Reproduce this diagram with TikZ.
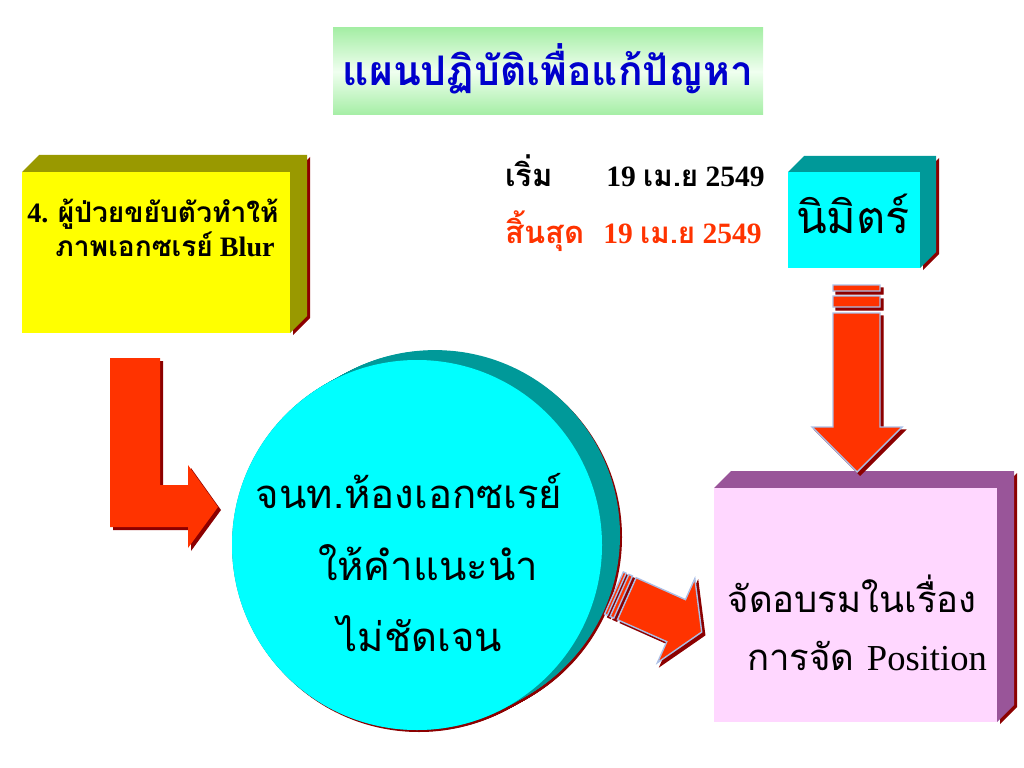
\documentclass[tikz,border=0pt]{standalone}
\usepackage{fontspec}
\setmainfont{Liberation Serif}
\newfontfamily\thai[Script=Thai]{Loma}
\usetikzlibrary{calc}

\definecolor{arrowred}{RGB}{255,51,0}
\definecolor{shadowred}{RGB}{140,0,0}
\definecolor{rim}{RGB}{170,190,230}
\definecolor{boxyellow}{RGB}{255,255,0}
\definecolor{boxolive}{RGB}{153,153,0}
\definecolor{boxcyan}{RGB}{0,255,255}
\definecolor{boxteal}{RGB}{0,153,153}
\definecolor{boxpink}{RGB}{255,215,255}
\definecolor{boxplum}{RGB}{153,85,153}
\definecolor{titleblue}{RGB}{0,0,204}
\definecolor{titlegreen}{RGB}{165,238,165}

% 3D slab: x1 y1 x2 y2 depth front side
\newcommand{\slab}[7]{%
  \fill[shadowred] (#3+3,#2+2) -- (#3+#5+3,#2-#5+2) -- (#3+#5+3,#4-#5+2) -- (#3+3,#4+2) -- cycle;
  \fill[#7] (#1,#2) -- (#1+#5,#2-#5) -- (#3+#5,#2-#5) -- (#3+#5,#4-#5) -- (#3,#4) -- (#3,#2) -- cycle;
  \fill[#6] (#1,#2) rectangle (#3,#4);
}

\tikzset{
  thaibig/.style={font=\thai\fontsize{28.5pt}{32pt}\selectfont, text=black, inner sep=0pt, anchor=base},
  thaibold/.style={font=\bfseries\fontsize{20pt}{24pt}\selectfont, text=black, inner sep=0pt, anchor=base},
  datetext/.style={font=\bfseries\fontsize{21pt}{24pt}\selectfont, inner sep=0pt},
}

\begin{document}
\begin{tikzpicture}[x=0.025cm, y=-0.025cm]
    \useasboundingbox (0,0) rectangle (1024,768);

    % title
    \shade[top color=titlegreen, bottom color=titlegreen, middle color=green!6] (333,28) rectangle (763,115);
    \node[font=\thai\bfseries\fontsize{29pt}{34pt}\selectfont, text=titleblue, inner sep=0pt, anchor=base] (title) at (548,86) {แผนปฏิบัติเพื่อแก้ปัญหา};

    % boxes
    \slab{22}{172}{290}{333}{17}{boxyellow}{boxolive}
    \slab{788}{172}{920}{268}{16}{boxcyan}{boxteal}
    \slab{714}{488}{997}{722}{17}{boxpink}{boxplum}

    \node[thaibold] (cause1) at (153,222) {4. {\thai ผู้ป่วยขยับตัวทำให้}};
    \node[thaibold] (cause2) at (165,256) {{\thai ภาพเอกซเรย์} Blur};

    \node[font=\thai\fontsize{32pt}{36pt}\selectfont, inner sep=0pt, anchor=base] (owner) at (853,233) {นิมิตร์};

    % dates
    \node[datetext, font=\thai\bfseries\fontsize{22pt}{24pt}\selectfont, anchor=base west] (start) at (505,186) {เริ่ม};
    \node[datetext, anchor=base east] (startdate) at (765,186) {19 {\thai เม.ย} 2549};
    \node[datetext, font=\thai\bfseries\fontsize{22pt}{24pt}\selectfont, text=arrowred, anchor=base west] (finish) at (505,243) {สิ้นสุด};
    \node[datetext, text=arrowred, anchor=base east] (finishdate) at (762,243) {19 {\thai เม.ย} 2549};

    % circle
    \foreach \t in {0,1,...,18}
        \fill[shadowred] (417+\t+2,545-\t*0.55+2) circle (185);
    \foreach \t in {0,1,...,18}
        \fill[boxteal] (417+\t,545-\t*0.55) circle (185);
    \fill[boxcyan] (417,545) circle (185);

    \node[thaibig] (staff1) at (409,508) {จนท.ห้องเอกซเรย์};
    \node[thaibig] (staff2) at (428,580) {ให้คำแนะนำ};
    \node[thaibig] (staff3) at (420,651) {ไม่ชัดเจน};

    % L arrow
    \foreach \s/\c in {3/shadowred, 0/arrowred}
        \fill[\c, shift={(\s,\s)}] (110,358) -- (160,358) -- (160,485) -- (188,485) -- (188,465)
            -- (218,507) -- (188,548) -- (188,527) -- (110,527) -- cycle;

    % down arrow
    \foreach \s/\c/\r in {3/shadowred/shadowred, 0/arrowred/rim}
        \filldraw[fill=\c, draw=\r, line width=1pt, shift={(\s,\s)}]
            (833,285) rectangle (880,291) (833,296) rectangle (880,307)
            (833,313) -- (880,313) -- (880,427) -- (902,427) -- (857,472) -- (812,427) -- (833,427) -- cycle;

    % diagonal arrow
    \foreach \s/\c/\r in {3/shadowred/shadowred, 0/arrowred/rim}{
        \begin{scope}[shift={(614+\s,593+\s)}, rotate=-24]
            \filldraw[fill=\c, draw=\r, line width=1pt]
                (0,-23) rectangle (3,23) (6,-23) rectangle (10,23)
                (14,-23) -- (68,-23) -- (68,-46) -- (96,0) -- (68,46) -- (68,23) -- (14,23) -- cycle;
        \end{scope}
    }

    \node[thaibig, font=\thai\fontsize{26pt}{28pt}\selectfont] (train1) at (852,612) {จัดอบรมในเรื่อง};
    \node[thaibig, font=\thai\fontsize{26pt}{28pt}\selectfont] (train2) at (867,670) {การจัด {\rmfamily Position}};
\end{tikzpicture}
\end{document}
